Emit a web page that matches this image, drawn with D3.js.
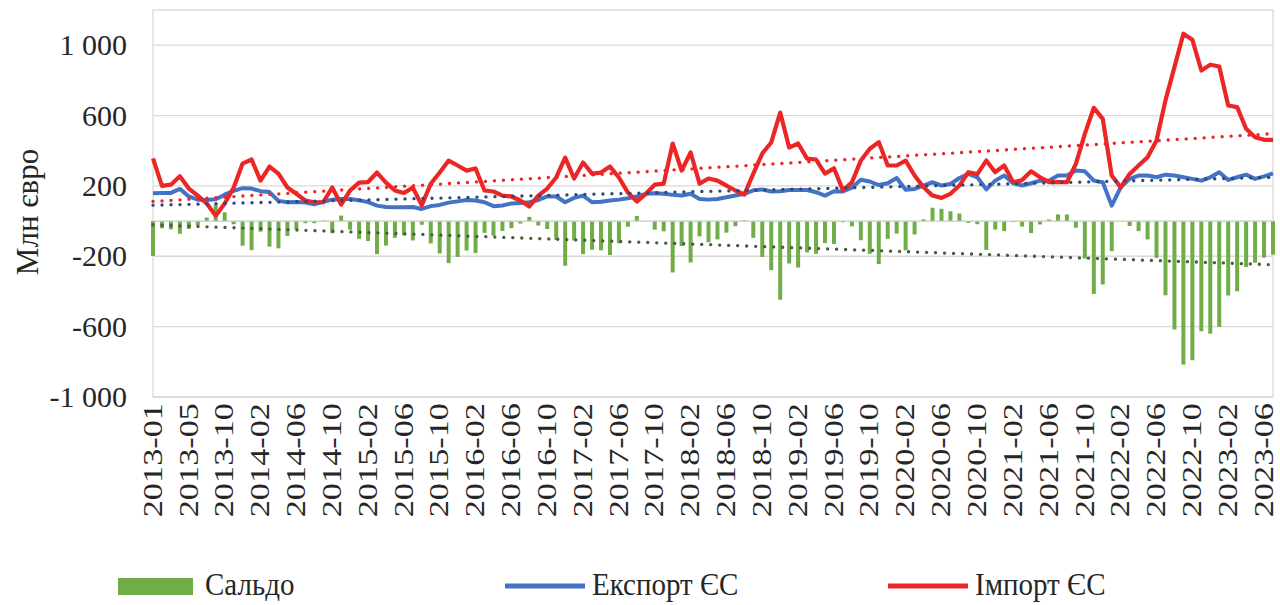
<!DOCTYPE html>
<html lang="uk">
<head>
<meta charset="UTF-8">
<title>Експорт та імпорт ЄС</title>
<style>
  body { margin: 0; background: #fff; }
  text { font-family: "Liberation Serif", "Times New Roman", serif; fill: #262626; }
</style>
</head>
<body>
<script src="https://cdn.jsdelivr.net/npm/d3@7/dist/d3.min.js"></script>
<script>
// months (2013-08 absent in the source series)
const months = [
  "2013-01","2013-02","2013-03","2013-04","2013-05","2013-06","2013-07","2013-09","2013-10","2013-11","2013-12",
  "2014-01","2014-02","2014-03","2014-04","2014-05","2014-06","2014-07","2014-08","2014-09","2014-10","2014-11","2014-12",
  "2015-01","2015-02","2015-03","2015-04","2015-05","2015-06","2015-07","2015-08","2015-09","2015-10","2015-11","2015-12",
  "2016-01","2016-02","2016-03","2016-04","2016-05","2016-06","2016-07","2016-08","2016-09","2016-10","2016-11","2016-12",
  "2017-01","2017-02","2017-03","2017-04","2017-05","2017-06","2017-07","2017-08","2017-09","2017-10","2017-11","2017-12",
  "2018-01","2018-02","2018-03","2018-04","2018-05","2018-06","2018-07","2018-08","2018-09","2018-10","2018-11","2018-12",
  "2019-01","2019-02","2019-03","2019-04","2019-05","2019-06","2019-07","2019-08","2019-09","2019-10","2019-11","2019-12",
  "2020-01","2020-02","2020-03","2020-04","2020-05","2020-06","2020-07","2020-08","2020-09","2020-10","2020-11","2020-12",
  "2021-01","2021-02","2021-03","2021-04","2021-05","2021-06","2021-07","2021-08","2021-09","2021-10","2021-11","2021-12",
  "2022-01","2022-02","2022-03","2022-04","2022-05","2022-06","2022-07","2022-08","2022-09","2022-10","2022-11","2022-12",
  "2023-01","2023-02","2023-03","2023-04","2023-05","2023-06","2023-07"
];

const tickLabels = [
  "2013-01","2013-05","2013-10","2014-02","2014-06","2014-10","2015-02","2015-06","2015-10",
  "2016-02","2016-06","2016-10","2017-02","2017-06","2017-10","2018-02","2018-06","2018-10",
  "2019-02","2019-06","2019-10","2020-02","2020-06","2020-10","2021-02","2021-06","2021-10",
  "2022-02","2022-06","2022-10","2023-02","2023-06"
];

const yTicks = [-1000, -600, -200, 200, 600, 1000];

// млн євро
const exportEU = [
  158,159,160,183,140,122,120,124,150,172,187,185,170,165,115,107,108,105,95,110,
  122,125,125,118,108,88,80,79,79,80,69,85,92,105,112,120,117,107,85,89,
  100,103,107,120,140,140,107,132,145,107,110,117,122,130,140,155,158,155,149,145,
  155,126,122,126,136,145,155,175,180,168,170,177,177,177,164,145,170,168,190,235,
  225,205,215,245,178,183,202,221,202,211,245,268,249,180,230,259,215,202,215,230,
  230,259,259,287,283,230,221,88,192,240,259,259,249,264,259,249,240,230,249,278,
  234,249,264,240,254,271
];

const importEU = [
  356,200,207,255,185,145,100,31,100,190,327,350,230,310,270,191,155,117,107,107,
  191,94,174,219,222,276,219,174,160,190,90,212,276,344,316,287,299,174,168,145,
  140,117,83,145,185,248,361,242,333,270,276,310,248,162,111,155,207,213,441,287,
  390,213,242,230,202,174,151,270,384,447,617,418,441,355,350,270,300,175,220,344,
  411,449,316,316,344,259,192,145,132,155,202,278,267,344,278,316,221,233,283,249,
  221,221,221,325,496,644,581,259,192,268,316,363,458,686,875,1065,1031,856,889,879,
  657,648,525,477,462,462
];

const saldo = [
  -198,-41,-47,-72,-45,-23,20,93,50,-18,-140,-165,-60,-145,-155,-84,-47,-12,-12,3,
  -69,31,-49,-101,-114,-188,-139,-95,-81,-110,-21,-127,-184,-239,-204,-167,-182,-67,-83,-56,
  -40,-14,24,-25,-45,-108,-254,-110,-188,-163,-166,-193,-126,-32,29,0,-49,-58,-292,-142,
  -235,-87,-120,-104,-66,-29,4,-95,-204,-279,-447,-241,-264,-178,-186,-125,-130,-7,-30,-109,
  -186,-244,-101,-71,-166,-76,10,76,70,56,43,-10,-18,-164,-48,-57,-6,-31,-68,-19,
  9,38,38,-38,-213,-414,-360,-171,0,-28,-57,-104,-209,-422,-616,-816,-791,-626,-640,-601,
  -423,-399,-261,-237,-208,-191
];

const W = 1280, H = 605;
const plot = {left: 153, right: 1273, top: 10, bottom: 397};

const svg = d3.select("body").append("svg")
    .attr("width", W).attr("height", H)
    .attr("viewBox", [0, 0, W, H]);

const x = d3.scalePoint()
    .domain(months)
    .range([plot.left, plot.right]);

const y = d3.scaleLinear()
    .domain([-1000, 1200])
    .range([plot.bottom, plot.top]);

const fmt = d3.formatLocale({decimal: ",", thousands: "\u00a0", grouping: [3], currency: ["", ""], minus: "-"}).format(",");

// gridlines
svg.append("g")
    .selectAll("line")
    .data(yTicks)
    .join("line")
    .attr("x1", plot.left).attr("x2", plot.right)
    .attr("y1", d => y(d)).attr("y2", d => y(d))
    .attr("stroke", "#d9d9d9").attr("stroke-width", 1.3);

// plot frame
svg.append("rect")
    .attr("x", plot.left).attr("y", plot.top)
    .attr("width", plot.right - plot.left).attr("height", plot.bottom - plot.top)
    .attr("fill", "none").attr("stroke", "#d9d9d9").attr("stroke-width", 1.3);

// y axis labels
svg.append("g")
    .attr("transform", `translate(${plot.left - 26},0)`)
    .call(d3.axisLeft(y).tickValues(yTicks).tickSize(0).tickPadding(0).tickFormat(fmt))
    .call(g => g.select(".domain").remove())
    .call(g => g.selectAll("text")
        .attr("font-family", "Liberation Serif")
        .attr("font-size", 30)
        .attr("fill", "#262626"));

svg.append("text")
    .attr("transform", `translate(27,${212}) rotate(-90)`)
    .attr("text-anchor", "middle")
    .attr("dy", "0.35em")
    .attr("font-size", 31)
    .text("Млн євро");

// x axis labels
svg.append("g")
    .attr("transform", `translate(0,${plot.bottom})`)
    .call(d3.axisBottom(x).tickValues(tickLabels).tickSize(0))
    .call(g => g.select(".domain").remove())
    .call(g => g.selectAll("text")
        .attr("font-family", "Liberation Serif")
        .attr("font-size", 27)
        .attr("fill", "#303030")
        .attr("text-anchor", "end")
        .attr("x", 0).attr("y", 0)
        .attr("dy", "0.34em")
        .attr("transform", "translate(-1,6) rotate(-90) scale(1.27,1)"));

// saldo bars
svg.append("g")
    .attr("fill", "#70ad47")
    .selectAll("rect")
    .data(saldo)
    .join("rect")
    .attr("x", (d, i) => x(months[i]) - 2)
    .attr("width", 4)
    .attr("y", d => y(Math.max(0, d)))
    .attr("height", d => Math.abs(y(d) - y(0)));

// zero axis line
svg.append("line")
    .attr("x1", plot.left).attr("x2", plot.right)
    .attr("y1", y(0)).attr("y2", y(0))
    .attr("stroke", "#c9c9c9").attr("stroke-width", 1.3);

const line = d3.line()
    .x((d, i) => x(months[i]))
    .y(d => y(d));

svg.append("path")
    .datum(exportEU)
    .attr("d", line)
    .attr("fill", "none")
    .attr("stroke", "#4472c4")
    .attr("stroke-width", 4)
    .attr("stroke-linejoin", "round");

svg.append("path")
    .datum(importEU)
    .attr("d", line)
    .attr("fill", "none")
    .attr("stroke", "#ec2626")
    .attr("stroke-width", 4.2)
    .attr("stroke-linejoin", "round");

// linear trendlines (least squares, like Excel)
function trend(vals) {
  const n = vals.length;
  const mx = (n - 1) / 2, my = d3.mean(vals);
  let sxy = 0, sxx = 0;
  vals.forEach((v, i) => { sxy += (i - mx) * (v - my); sxx += (i - mx) * (i - mx); });
  const b = sxy / sxx, a = my - b * mx;
  return [[0, a], [n - 1, a + b * (n - 1)]];
}

const trendLine = d3.line()
    .x(d => x(months[d[0]]))
    .y(d => y(d[1]));

[[saldo, "#4d5b43"], [exportEU, "#2b4a78"], [importEU, "#ec2626"]].forEach(([vals, c]) => {
  svg.append("path")
      .attr("d", trendLine(trend(vals)))
      .attr("fill", "none")
      .attr("stroke", c)
      .attr("stroke-width", 3.3)
      .attr("stroke-linecap", "round")
      .attr("stroke-dasharray", "0.1 8.9");
});

// legend
const legend = svg.append("g").attr("font-size", 29);

legend.append("rect")
    .attr("x", 118).attr("y", 578).attr("width", 75).attr("height", 17)
    .attr("fill", "#70ad47");
legend.append("line")
    .attr("x1", 505).attr("x2", 585).attr("y1", 586).attr("y2", 586)
    .attr("stroke", "#4472c4").attr("stroke-width", 5);
legend.append("line")
    .attr("x1", 888).attr("x2", 968).attr("y1", 586).attr("y2", 586)
    .attr("stroke", "#ec2626").attr("stroke-width", 5);

legend.selectAll("text")
    .data([[205, "Сальдо"], [592, "Експорт ЄС"], [975, "Імпорт ЄС"]])
    .join("text")
    .attr("transform", d => `translate(${d[0]},595) scale(1,1.1)`)
    .text(d => d[1]);
</script>
</body>
</html>
